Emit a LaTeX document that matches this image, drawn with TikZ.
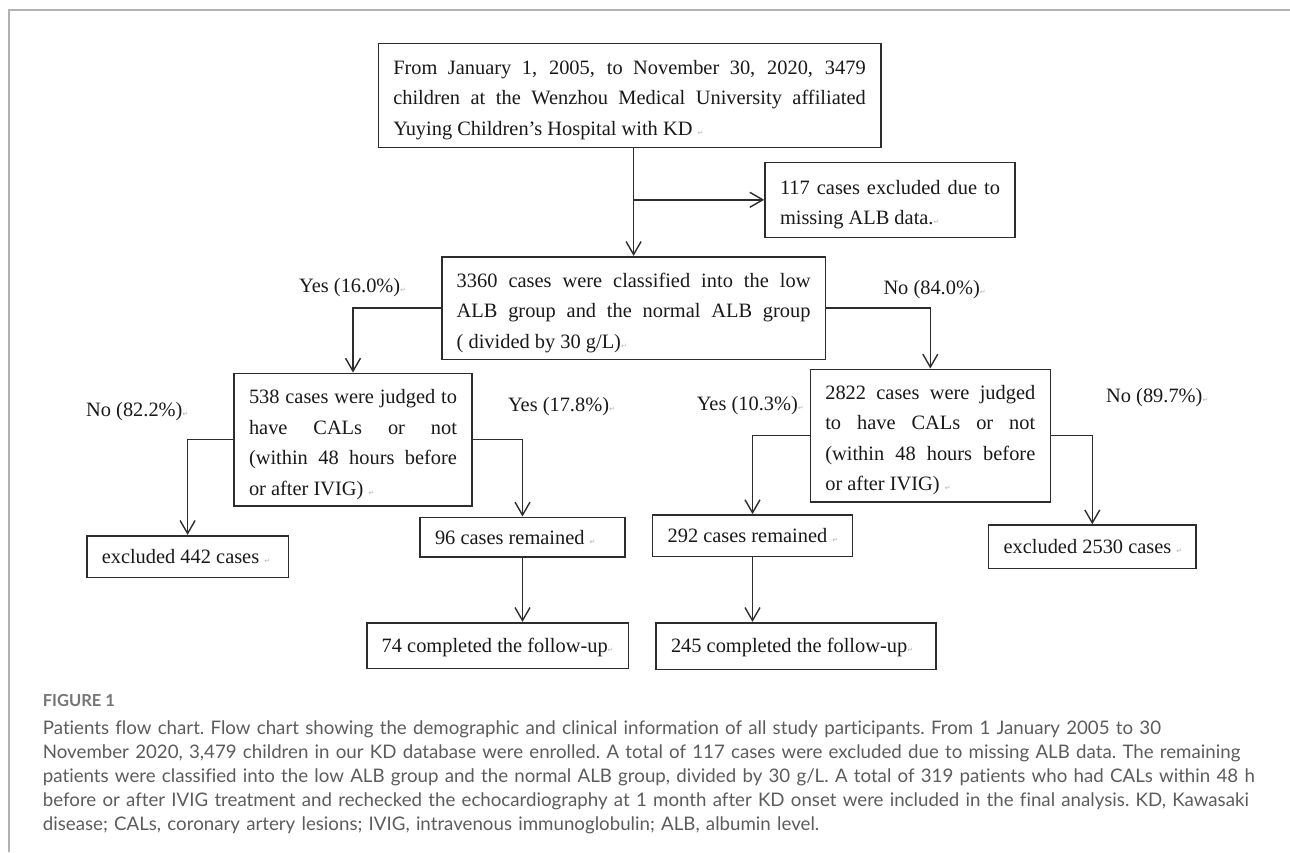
\documentclass[tikz,border=0pt]{standalone}
\usepackage{fontspec}
\setmainfont{Liberation Serif}
\newfontfamily\capfont[Ligatures=NoCommon]{Lato}
\newfontfamily\markfont{DejaVu Sans}
\definecolor{darkline}{RGB}{45,45,45}
\definecolor{lightgray}{RGB}{178,178,178}
\definecolor{midgray}{RGB}{92,92,92}
\colorlet{boxline}{darkline}
\colorlet{framecol}{lightgray}
\colorlet{captext}{midgray}
\colorlet{markgray}{lightgray}
\usetikzlibrary{arrows.meta, positioning}
% struts that set the text a little low in the boxes
\newcommand{\firststrut}{\rule{0pt}{23.5pt}}
\newcommand{\onestrut}{\rule[-4pt]{0pt}{22pt}}
% the small return mark after each paragraph
\newcommand{\retmark}{{\markfont\fontsize{7}{7}\selectfont\textcolor{markgray}{↵}}}

\begin{document}
\begin{tikzpicture}[
    x=1pt, y=-1pt,
    flowbox/.style={draw=boxline, line width=1.6pt, align=justify,
      inner xsep=15pt, inner ysep=0pt, text=black!90,
      font=\fontsize{20.4}{30.5}\selectfont},
    lbl/.style={anchor=west, inner sep=0pt, text=black!90,
      font=\fontsize{20.4}{24}\selectfont},
    arr/.style={draw=boxline, line width=1.4pt,
      -{Straight Barb[length=13pt,width=15pt,line width=1.4pt]}},
  ]
    \useasboundingbox (0,0) rectangle (1290,852);
    \draw[framecol, line width=2pt] (9,852) -- (9,10) -- (1290,10);

    \node[flowbox, text width=472.4pt, minimum height=104pt] (start) at (629.5,95.3)
      {\firststrut From January 1, 2005, to November 30, 2020, 3479\linebreak
       children at the Wenzhou Medical University affiliated\linebreak
       Yuying Children's Hospital with KD \retmark};
    \node[flowbox, text width=220pt, minimum height=75pt] (excl) at (890,199.8)
      {\firststrut 117 cases excluded due to\linebreak
       missing ALB data.\retmark};
    \node[flowbox, text width=353.8pt, minimum height=102.6pt] (split) at (633.6,308)
      {\firststrut 3360 cases were classified into the low\linebreak
       ALB group and the normal ALB group\linebreak
       ( divided by 30 g/L)\retmark};
    \node[flowbox, text width=208pt, minimum height=132.7pt] (judgeL) at (353,439.7)
      {\firststrut 538 cases were judged to\linebreak
       have CALs or not\linebreak
       (within 48 hours before\linebreak
       or after IVIG) \retmark};
    \node[flowbox, text width=210pt, minimum height=132.4pt] (judgeR) at (930.3,435.5)
      {\firststrut 2822 cases were judged\linebreak
       to have CALs or not\linebreak
       (within 48 hours before\linebreak
       or after IVIG) \retmark};
    \node[flowbox, text width=171.7pt, minimum height=41.6pt] (exclL) at (187.6,556.5)
      {\mbox{\onestrut excluded 442 cases \retmark}};
    \node[flowbox, text width=175pt, minimum height=39.4pt] (keepL) at (522.5,537)
      {\mbox{\onestrut 96 cases remained \retmark}};
    \node[flowbox, text width=231.6pt, minimum height=45.6pt] (doneL) at (497.5,645.5)
      {\mbox{\onestrut 74 completed the follow-up\retmark}};
    \node[flowbox, text width=169.8pt, minimum height=41.7pt] (keepR) at (752.5,535.8)
      {\mbox{\onestrut 292 cases remained \retmark}};
    \node[flowbox, text width=249.8pt, minimum height=46.6pt] (doneR) at (795.9,646)
      {\mbox{\onestrut 245 completed the follow-up\retmark}};
    \node[flowbox, text width=177.4pt, minimum height=43.3pt] (exclR) at (1092.3,546.7)
      {\mbox{\onestrut excluded 2530 cases \retmark}};

    \node[lbl] (yesA) at (299,287.5) {Yes (16.0\%)\retmark};
    \node[lbl] (noA) at (883.3,290) {No (84.0\%)\retmark};
    \node[lbl] (noL) at (86,411.7) {No (82.2\%)\retmark};
    \node[lbl] (yesL) at (507.8,406.7) {Yes (17.8\%)\retmark};
    \node[lbl] (yesR) at (696.6,405.7) {Yes (10.3\%)\retmark};
    \node[lbl] (noR) at (1106,397.3) {No (89.7\%)\retmark};

    \draw[arr] (start.south -| split.north) -- (split.north);
    \draw[arr] (excl.west -| split.north) -- (excl.west);
    \draw[arr] (split.west) -| (judgeL.north);
    \draw[arr] (split.east) -| (judgeR.north);
    \draw[arr] (judgeL.west) -| (exclL.north);
    \draw[arr] (judgeL.east) -| (keepL.north);
    \draw[arr] (judgeR.west) -| (keepR.north);
    \draw[arr] (judgeR.east) -| (exclR.north);
    \draw[arr] (keepL.south) -- (keepL.south |- doneL.north);
    \draw[arr] (keepR.south) -- (keepR.south |- doneR.north);

    \node[anchor=base west, inner sep=0pt, text=captext!85,
      font=\fontsize{16.5}{18}\selectfont\capfont\bfseries] (figlabel) at (42.7,706.5) {FIGURE 1};
    \node[anchor=north west, inner sep=0pt, text width=1245pt, align=left, text=captext,
      font=\fontsize{18.7}{24}\selectfont\capfont\frenchspacing] (caption) at (42.7,718.5)
      {\rule{0pt}{16pt}Patients flow chart. Flow chart showing the demographic and clinical information of all study participants. From 1 January 2005 to 30\\
       November 2020, 3,479 children in our KD database were enrolled. A total of 117 cases were excluded due to missing ALB data. The remaining\\
       patients were classified into the low ALB group and the normal ALB group, divided by 30 g/L. A total of 319 patients who had CALs within 48 h\\
       before or after IVIG treatment and rechecked the echocardiography at 1 month after KD onset were included in the final analysis. KD, Kawasaki\\
       disease; CALs, coronary artery lesions; IVIG, intravenous immunoglobulin; ALB, albumin level.};
  \end{tikzpicture}
\end{document}
